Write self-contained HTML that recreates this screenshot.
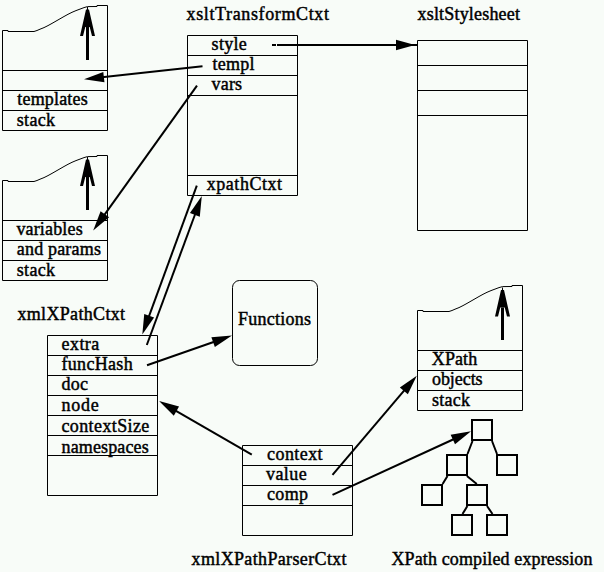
<!DOCTYPE html>
<html><head><meta charset="utf-8"><style>
html,body{margin:0;padding:0;background:#f8fcf8;}
svg{display:block;}
text{font-family:"Liberation Serif",serif;font-size:18px;fill:#000;stroke:#000;stroke-width:0.45px;}
</style></head><body>
<svg width="604" height="572" viewBox="0 0 604 572">
<rect width="604" height="572" fill="#f8fcf8"/>
<path d="M187.5,35.5H297.5V195.5H187.5ZM187.5,55.5H297.5M187.5,75.5H297.5M187.5,95.5H297.5M187.5,175.5H297.5M417.5,40.5H527.5V230.5H417.5ZM417.5,65.5H527.5M417.5,90.5H527.5M417.5,115.5H527.5M47.5,335.5H157.5V495.5H47.5ZM47.5,355.5H157.5M47.5,375.5H157.5M47.5,395.5H157.5M47.5,415.5H157.5M47.5,435.5H157.5M47.5,455.5H157.5M242.5,445.5H352.5V535.5H242.5ZM242.5,465.5H352.5M242.5,485.5H352.5M242.5,505.5H352.5M2.5,130.5L2.5,30.5L8,30.5L8,31.5L34,31.5L37,30.5L40,29.2L44,27.6L48,25.6L52,23.4L56,21.1L60,18.8L64,16.5L68,14.3L72,12.3L76,10.6L80,9.1L84,7.6L87.5,6.6L97,6.5L97,5.5L107.5,5.5L107.5,130.5ZM2.5,70.5H107.5M2.5,90.5H107.5M2.5,110.5H107.5M2.5,280.5L2.5,180.5L8,180.5L8,181.5L34,181.5L37,180.5L40,179.2L44,177.6L48,175.6L52,173.4L56,171.1L60,168.8L64,166.5L68,164.3L72,162.3L76,160.6L80,159.1L84,157.6L87.5,156.6L97,156.5L97,155.5L107.5,155.5L107.5,280.5ZM2.5,220.5H107.5M2.5,240.5H107.5M2.5,260.5H107.5M417.5,410.5L417.5,310.5L423,310.5L423,311.5L449,311.5L452,310.5L455,309.2L459,307.6L463,305.6L467,303.4L471,301.1L475,298.8L479,296.5L483,294.3L487,292.3L491,290.6L495,289.1L499,287.6L502.5,286.6L512,286.5L512,285.5L522.5,285.5L522.5,410.5ZM417.5,350.5H522.5M417.5,370.5H522.5M417.5,390.5H522.5" fill="none" stroke="#000" stroke-width="1"/>
<rect x="232.5" y="280.5" width="85" height="85" rx="7" ry="7" fill="none" stroke="#000" stroke-width="1"/>
<path d="M87.5,60V27" stroke="#000" stroke-width="3" fill="none"/><rect x="87.0" y="7" width="1" height="4" fill="#000"/><path d="M86.0,9.5L89.0,9.5L95.0,36L92.0,36L89.7,27L85.3,27L83.0,36L80.0,36Z" fill="#000"/>
<path d="M87.5,210V177" stroke="#000" stroke-width="3" fill="none"/><rect x="87.0" y="157" width="1" height="4" fill="#000"/><path d="M86.0,159.5L89.0,159.5L95.0,186L92.0,186L89.7,177L85.3,177L83.0,186L80.0,186Z" fill="#000"/>
<path d="M502.5,340V307.5" stroke="#000" stroke-width="3" fill="none"/><rect x="502.0" y="287.5" width="1" height="4" fill="#000"/><path d="M501.0,290.0L504.0,290.0L510.0,316.5L507.0,316.5L504.7,307.5L500.3,307.5L498.0,316.5L495.0,316.5Z" fill="#000"/>
<path d="M277.00,45.00L398.00,45.00" stroke="#000" stroke-width="2" fill="none"/><path d="M415.00,45.00L396.00,50.25L396.00,39.75Z" fill="#000"/>
<path d="M410,45H417" stroke="#000" stroke-width="2"/>
<path d="M272,45H276" stroke="#000" stroke-width="2"/>
<path d="M202.50,66.20L101.89,77.32" stroke="#000" stroke-width="2" fill="none"/><path d="M84.00,79.30L103.30,71.88L104.46,82.32Z" fill="#000"/>
<path d="M197.00,85.70L103.69,215.87" stroke="#000" stroke-width="2" fill="none"/><path d="M93.20,230.50L100.59,211.19L109.12,217.30Z" fill="#000"/>
<path d="M196.80,185.70L148.49,317.60" stroke="#000" stroke-width="2" fill="none"/><path d="M142.30,334.50L144.25,313.91L154.11,317.53Z" fill="#000"/>
<path d="M146.80,345.00L195.56,212.98" stroke="#000" stroke-width="2" fill="none"/><path d="M201.80,196.10L199.79,216.68L189.95,213.04Z" fill="#000"/>
<path d="M147.00,365.20L215.01,341.44" stroke="#000" stroke-width="2" fill="none"/><path d="M232.00,335.50L214.85,347.05L211.39,337.14Z" fill="#000"/>
<path d="M251.80,454.70L174.68,410.11" stroke="#000" stroke-width="2" fill="none"/><path d="M159.10,401.10L179.04,406.57L173.79,415.66Z" fill="#000"/>
<path d="M332.50,474.90L405.14,389.42" stroke="#000" stroke-width="2" fill="none"/><path d="M416.80,375.70L407.85,394.34L399.85,387.54Z" fill="#000"/>
<path d="M332.50,494.90L454.65,438.72" stroke="#000" stroke-width="2" fill="none"/><path d="M471.00,431.20L455.02,444.33L450.64,434.79Z" fill="#000"/>
<path d="M472,420h20v20h-20ZM447,455h20v20h-20ZM497,455h20v20h-20ZM422,485h20v20h-20ZM467,485h20v20h-20ZM452,515h20v20h-20ZM487,515h20v20h-20Z" fill="none" stroke="#000" stroke-width="2"/>
<path d="M472.5,441L467.5,454M492,441L497,454M447.5,476L442.6,484M466.9,476L476.8,484M467.4,506L462.5,514M487,506L492.5,514" stroke="#000" stroke-width="2" fill="none"/>
<text x="186.60" y="20" textLength="142.30" lengthAdjust="spacing">xsltTransformCtxt</text>
<text x="417.50" y="20" textLength="102.50" lengthAdjust="spacing">xsltStylesheet</text>
<text x="17.30" y="105" textLength="70.40" lengthAdjust="spacing">templates</text>
<text x="16.80" y="126" textLength="38.20" lengthAdjust="spacing">stack</text>
<text x="211.60" y="50" textLength="35.10" lengthAdjust="spacing">style</text>
<text x="212.40" y="70" textLength="42.10" lengthAdjust="spacing">templ</text>
<text x="211.60" y="90" textLength="30.50" lengthAdjust="spacing">vars</text>
<text x="206.80" y="190" textLength="75.20" lengthAdjust="spacing">xpathCtxt</text>
<text x="16.40" y="235" textLength="66.30" lengthAdjust="spacing">variables</text>
<text x="16.80" y="255" textLength="84.10" lengthAdjust="spacing">and params</text>
<text x="16.80" y="276" textLength="38.20" lengthAdjust="spacing">stack</text>
<text x="17.40" y="320" textLength="107.70" lengthAdjust="spacing">xmlXPathCtxt</text>
<text x="61.50" y="350" textLength="37.80" lengthAdjust="spacing">extra</text>
<text x="61.50" y="370" textLength="71.20" lengthAdjust="spacing">funcHash</text>
<text x="61.50" y="390" textLength="26.50" lengthAdjust="spacing">doc</text>
<text x="61.50" y="411" textLength="37.20" lengthAdjust="spacing">node</text>
<text x="61.50" y="432" textLength="87.80" lengthAdjust="spacing">contextSize</text>
<text x="61.50" y="453" textLength="87.20" lengthAdjust="spacing">namespaces</text>
<text x="237.90" y="325" textLength="73.20" lengthAdjust="spacing">Functions</text>
<text x="431.80" y="365" textLength="45.40" lengthAdjust="spacing">XPath</text>
<text x="432.00" y="385" textLength="50.60" lengthAdjust="spacing">objects</text>
<text x="432.00" y="406" textLength="37.90" lengthAdjust="spacing">stack</text>
<text x="267.10" y="460" textLength="55.50" lengthAdjust="spacing">context</text>
<text x="266.00" y="480" textLength="40.70" lengthAdjust="spacing">value</text>
<text x="267.00" y="500" textLength="41.10" lengthAdjust="spacing">comp</text>
<text x="191.60" y="565" textLength="155.00" lengthAdjust="spacing">xmlXPathParserCtxt</text>
<text x="391.50" y="565" textLength="200.90" lengthAdjust="spacing">XPath compiled expression</text>
</svg></body></html>
